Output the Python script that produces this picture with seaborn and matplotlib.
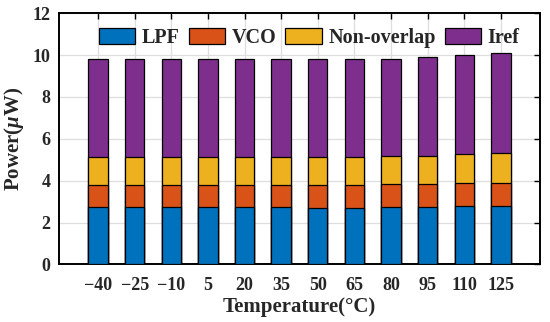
import matplotlib
matplotlib.use("Agg")
import matplotlib.pyplot as plt
import seaborn as sns
import pandas as pd
import numpy as np
from matplotlib.patches import Patch

temps = ["\u221240", "\u221225", "\u221210", "5", "20", "35", "50", "65", "80", "95", "110", "125"]
lpf = [2.72, 2.72, 2.72, 2.72, 2.72, 2.72, 2.71, 2.71, 2.72, 2.74, 2.77, 2.78]
vco = [1.08, 1.08, 1.08, 1.08, 1.08, 1.08, 1.08, 1.08, 1.10, 1.09, 1.11, 1.13]
nonoverlap = [1.35, 1.35, 1.35, 1.35, 1.34, 1.33, 1.33, 1.34, 1.34, 1.36, 1.37, 1.40]
iref = [4.67, 4.68, 4.68, 4.66, 4.65, 4.66, 4.68, 4.68, 4.67, 4.71, 4.75, 4.81]

series_names = ["LPF", "VCO", "Non-overlap", "Iref"]
colors = ["#0072BD", "#D95319", "#EDB120", "#7E2F8E"]

sns.set_style("white")
plt.rcParams["font.family"] = ["Liberation Serif", "DejaVu Serif"]
plt.rcParams["font.weight"] = "bold"
plt.rcParams["mathtext.fontset"] = "custom"
plt.rcParams["mathtext.rm"] = "Liberation Serif:bold"
plt.rcParams["mathtext.it"] = "Liberation Serif:italic:bold"

df = pd.DataFrame({"Temp": temps, "LPF": lpf, "VCO": vco,
                   "Non-overlap": nonoverlap, "Iref": iref})
cum = df[series_names].cumsum(axis=1)

fig = plt.figure(figsize=(5.5, 3.22), dpi=100)
ax = fig.add_axes([0.107, 0.179, 0.875, 0.780])

for name, col in zip(reversed(series_names), reversed(colors)):
    sns.barplot(x=df["Temp"], y=cum[name], color=col, width=0.53,
                edgecolor="black", linewidth=0.9, saturation=1, ax=ax, zorder=3)

ax.set_xlim(-1.07, 12.07)
ax.set_ylim(0, 12)
ax.set_yticks([0, 2, 4, 6, 8, 10, 12])
ax.grid(True, color="#dedede", linewidth=0.9, zorder=0)
ax.set_axisbelow(True)
for s in ax.spines.values():
    s.set_visible(True)
    s.set_color("black")
    s.set_linewidth(1.4)
ax.tick_params(direction="in", length=4, width=1.0, top=True, right=True,
               labelsize=13, color="black")
ax.tick_params(axis="x", pad=9)
ax.tick_params(axis="y", pad=6)
for lab in ax.get_xticklabels() + ax.get_yticklabels():
    lab.set_fontweight("bold")

ax.set_xlabel("Temperature(\u00b0C)", fontsize=15, fontweight="bold", labelpad=2)
ax.set_ylabel("Power($\\mu$W)", fontsize=15, fontweight="bold", labelpad=5)

handles = [Patch(facecolor=c, edgecolor="black", linewidth=0.9) for c in colors]
leg = ax.legend(handles, series_names, loc="center left", bbox_to_anchor=(0.083, 0.90),
                ncol=4, frameon=False, handlelength=1.8, handleheight=0.85,
                handletextpad=0.33, columnspacing=0.45, borderaxespad=0, borderpad=0,
                prop={"weight": "bold", "size": 14.5})

fig.savefig("out.png", dpi=100)
